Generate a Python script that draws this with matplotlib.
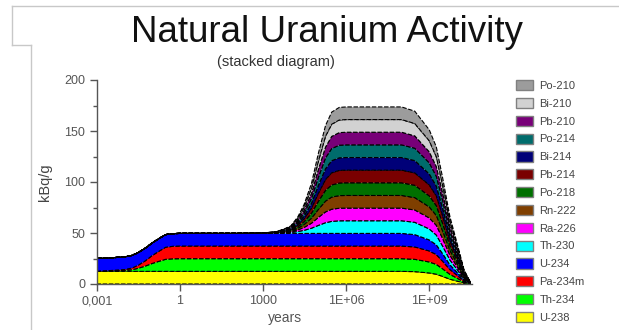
import matplotlib.pyplot as plt
import numpy as np
from matplotlib.patches import Patch
from matplotlib.lines import Line2D
from matplotlib.ticker import FixedLocator, MultipleLocator, FuncFormatter

plt.rcParams['font.family'] = ['Liberation Sans', 'DejaVu Sans']

# time axis (years)
years = [1e-3, 3e-3, 1e-2, 1.8e-2, 3e-2, 5.6e-2, 0.1, 0.18, 0.3, 0.56, 1, 10, 100,
         1e3, 3e3, 5.6e3, 1e4, 1.8e4, 3e4, 5.6e4, 1e5, 1.8e5, 3e5, 5.6e5, 1e6,
         1e7, 1e8, 3e8, 1e9, 1.8e9, 3e9, 5.6e9, 1e10, 1.8e10, 3e10]

# activities in kBq/g for each group of the chain
u238 = [12.4, 12.4, 12.4, 12.4, 12.4, 12.4, 12.4, 12.4, 12.4, 12.4, 12.4, 12.4, 12.4,
        12.4, 12.4, 12.4, 12.4, 12.4, 12.4, 12.4, 12.4, 12.4, 12.4, 12.4, 12.4,
        12.4, 12.4, 12.1, 10.8, 9.6, 7.5, 4.7, 2.9, 1.0, 0.15]
th234 = [0.1, 0.4, 0.9, 1.6, 2.9, 5.2, 7.8, 10.0, 11.8, 12.3, 12.4, 12.4, 12.4,
         12.4, 12.4, 12.4, 12.4, 12.4, 12.4, 12.4, 12.4, 12.4, 12.4, 12.4, 12.4,
         12.4, 12.4, 12.1, 10.8, 9.6, 7.5, 4.7, 2.9, 1.0, 0.15]
th230 = [0, 0, 0, 0, 0, 0, 0, 0, 0, 0, 0, 0.0, 0.01,
         0.11, 0.34, 0.62, 1.0, 1.9, 3.0, 5.1, 7.9, 10.5, 11.8, 12.35, 12.4,
         12.4, 12.4, 12.1, 10.8, 9.6, 7.5, 4.7, 2.9, 1.0, 0.15]
ra226 = [0, 0, 0, 0, 0, 0, 0, 0, 0, 0, 0, 0, 0,
         0.03, 0.16, 0.4, 0.7, 1.6, 2.8, 4.9, 7.9, 10.6, 11.9, 12.35, 12.4,
         12.4, 12.4, 12.1, 10.8, 9.6, 7.5, 4.7, 2.9, 1.0, 0.15]

nuclides = ['U-238', 'Th-234', 'Pa-234m', 'U-234', 'Th-230', 'Ra-226', 'Rn-222',
            'Po-218', 'Pb-214', 'Bi-214', 'Po-214', 'Pb-210', 'Bi-210', 'Po-210']
series = [u238, th234, th234, u238, th230] + [ra226] * 9
colors = ['#ffff00', '#00ff00', '#ff0000', '#0000ff', '#00ffff', '#ff00ff', '#7f3f00',
          '#007000', '#7a0000', '#000078', '#006c6c', '#780078', '#d2d2d2', '#9c9c9c']

fig = plt.figure(figsize=(6.19, 3.30), dpi=100)
ax = fig.add_axes([97 / 619, 46 / 330, 375 / 619, 204 / 330])

polys = ax.stackplot(years, *series, colors=colors)
for p in polys:
    p.set_edgecolor('black')
    p.set_linewidth(0.8)
    p.set_linestyle((0, (4, 1.5)))

ax.set_xscale('log')
ax.set_xlim(1e-3, 3.5e10)
ax.set_ylim(0, 200)

ax.xaxis.set_major_locator(FixedLocator([1e-3, 1, 1e3, 1e6, 1e9]))
ax.xaxis.set_minor_locator(FixedLocator([]))
ax.xaxis.set_major_formatter(FuncFormatter(
    lambda v, pos: {1e-3: '0,001', 1: '1', 1e3: '1000', 1e6: '1E+06', 1e9: '1E+09'}.get(v, '')))
ax.yaxis.set_major_locator(MultipleLocator(50))
ax.yaxis.set_minor_locator(MultipleLocator(25))

for s in ['top', 'right']:
    ax.spines[s].set_visible(False)
for s in ['left', 'bottom']:
    ax.spines[s].set_color('#555555')
    ax.spines[s].set_linewidth(1.0)
ax.tick_params(axis='both', which='major', labelsize=9, labelcolor='#555555',
               color='#555555', length=5, width=1.0)
ax.tick_params(axis='y', which='minor', color='#555555', length=3, width=1.0)
ax.tick_params(axis='x', pad=3)

ax.set_xlabel('years', fontsize=10, color='#555555', labelpad=3)
fig.text(45 / 619, 1 - 182 / 330, 'kBq/g', rotation=90, fontsize=10.5,
         color='#444444', ha='center', va='center')

fig.text(327 / 619, 1 - 32 / 330, 'Natural Uranium Activity', fontsize=26.5,
         color='#111111', ha='center', va='center')
fig.text(276 / 619, 1 - 62 / 330, '(stacked diagram)', fontsize=10.5,
         color='#333333', ha='center', va='center')

# legend, top of the stack first
handles = [Patch(facecolor=c, edgecolor='#808080', linewidth=1.0)
           for c in colors[::-1]]
fig.legend(handles, nuclides[::-1], loc='upper left',
           bbox_to_anchor=(516 / 619, 1 - 80 / 330), frameon=False,
           fontsize=8, labelcolor='#444444', borderpad=0, borderaxespad=0,
           handlelength=1.5, handleheight=1.05, handletextpad=0.6,
           labelspacing=0.62)

# outline of the surrounding panel
frame = dict(color='#c8c8c8', linewidth=1.0, transform=fig.transFigure)
fig.add_artist(Line2D([12 / 619, 1], [1 - 6 / 330, 1 - 6 / 330], **frame))
fig.add_artist(Line2D([12 / 619, 12 / 619], [1 - 6 / 330, 1 - 45 / 330], **frame))
fig.add_artist(Line2D([12 / 619, 31 / 619], [1 - 45 / 330, 1 - 45 / 330], **frame))
fig.add_artist(Line2D([31 / 619, 31 / 619], [1 - 45 / 330, 0], **frame))

fig.savefig('out.png', dpi=100)
